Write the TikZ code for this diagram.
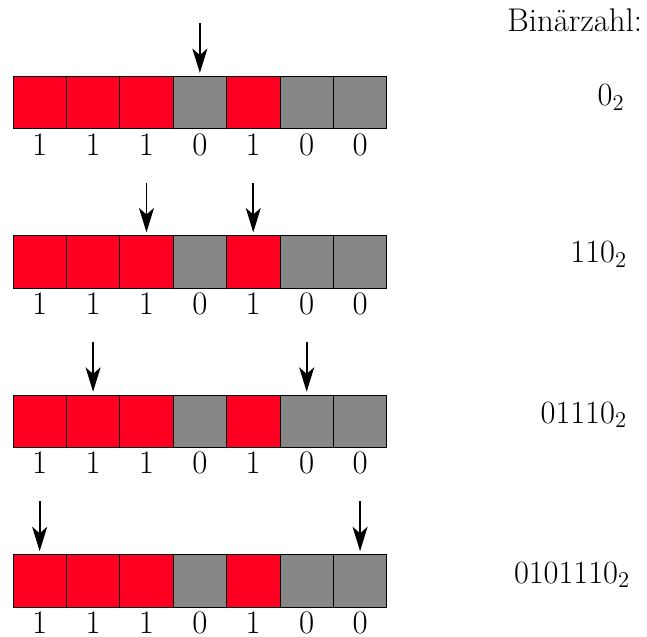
\documentclass[tikz,border=0pt]{standalone}
\usetikzlibrary{arrows.meta}
\definecolor{bitred}{RGB}{255,0,35}
\definecolor{bitgray}{RGB}{135,135,135}
\begin{document}
\begin{tikzpicture}[x=1cm,y=1cm,
  font=\fontsize{17.5}{21}\selectfont,
  cell/.style={draw=black, line width=0.5pt, minimum width=1cm, minimum height=0.98cm,
    inner sep=0pt, outer sep=0pt, anchor=north west},
  bitlabel/.style={anchor=base, inner sep=0pt},
  ptr/.style={-{Stealth[length=13pt,width=8pt,inset=3.5pt]}, line width=0.9pt, shorten >=1.9pt}]
\useasboundingbox (-0.243,1.433) rectangle (11.873,-10.496);
\foreach \r/\y in {1/0,2/-2.985,3/-5.97,4/-8.955}{
  \foreach \b/\col [count=\i] in {1/bitred,1/bitred,1/bitred,0/bitgray,1/bitred,0/bitgray,0/bitgray}{
    \node[cell, fill=\col] (c\r-\i) at (\i-1,\y) {};
    \node[bitlabel] (l\r-\i) at (\i-0.5,\y-1.47) {\b};
    \coordinate (a\r-\i) at (\i-0.5,\y+1.0);
  }
}
\draw[ptr] (a1-4) -- (c1-4.north);
\draw[ptr] (a2-3) -- (c2-3.north);
\draw[ptr] (a2-5) -- (c2-5.north);
\draw[ptr] (a3-2) -- (c3-2.north);
\draw[ptr] (a3-6) -- (c3-6.north);
\draw[ptr] (a4-1) -- (c4-1.north);
\draw[ptr] (a4-7) -- (c4-7.north);
\node[bitlabel] (title) at (10.52,0.852) {Binärzahl:};
\node[bitlabel] (n1) at (11.20,-0.552) {$0_2$};
\node[bitlabel] (n2) at (10.97,-3.49) {$110_2$};
\node[bitlabel] (n3) at (10.69,-6.49) {$01110_2$};
\node[bitlabel] (n4) at (10.47,-9.485) {$0101110_2$};
\end{tikzpicture}
\end{document}
